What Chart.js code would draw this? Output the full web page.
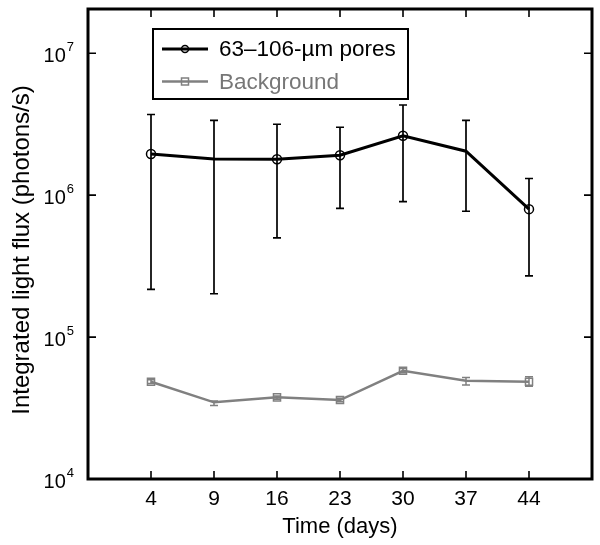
<!DOCTYPE html>
<html>
<head>
<meta charset="utf-8">
<script src="https://cdn.jsdelivr.net/npm/chart.js@4/dist/chart.umd.min.js"></script>
<style>
  html, body { margin: 0; padding: 0; background: #fff; }
  #wrap { width: 600px; height: 545px; }
</style>
</head>
<body>
<div id="wrap"><canvas id="c" width="600" height="545"></canvas></div>
<script>
// ---- data ----
const days = ['4', '9', '16', '23', '30', '37', '44'];
const poresMean = [1.95e6, 1.80e6, 1.79e6, 1.91e6, 2.62e6, 2.04e6, 7.97e5];
const poresLow  = [2.17e5, 2.02e5, 5.0e5, 8.06e5, 9.0e5, 7.7e5, 2.7e5];
const poresHigh = [3.7e6, 3.37e6, 3.16e6, 3.01e6, 4.32e6, 3.37e6, 1.31e6];
const bgMean = [4.84e4, 3.47e4, 3.76e4, 3.60e4, 5.79e4, 4.92e4, 4.84e4];
const bgLow  = [4.70e4, 3.30e4, 3.65e4, 3.50e4, 5.60e4, 4.60e4, 4.50e4];
const bgHigh = [5.00e4, 3.55e4, 3.85e4, 3.70e4, 6.00e4, 5.20e4, 5.25e4];
const markerShown = [true, false, true, true, true, false, true];
const yTickValues = [1e4, 1e5, 1e6, 1e7];
const yMin = 1e4, yMax = 2.05e7;
const yTitle = 'Integrated light flux (photons/s)';
const xTitle = 'Time (days)';

const FONT = 'Liberation Sans, Arial, Helvetica, sans-serif';
const GRAY = '#808080';

const toPts = arr => arr.map((v, i) => ({ x: i, y: v }));

const errorBars = {
  id: 'errorBars',
  beforeDatasetsDraw(chart) {
    const { ctx } = chart;
    const xs = chart.scales.x, ys = chart.scales.y;
    const sets = [
      { low: poresLow, high: poresHigh, color: '#000', w: 1.7 },
      { low: bgLow, high: bgHigh, color: GRAY, w: 1.5 }
    ];
    ctx.save();
    sets.forEach(s => {
      ctx.strokeStyle = s.color;
      ctx.lineWidth = s.w;
      s.low.forEach((lo, i) => {
        const x = xs.getPixelForValue(i);
        const y1 = ys.getPixelForValue(lo);
        const y2 = ys.getPixelForValue(s.high[i]);
        ctx.beginPath();
        ctx.moveTo(x, y1); ctx.lineTo(x, y2);
        ctx.moveTo(x - 4, y1); ctx.lineTo(x + 4, y1);
        ctx.moveTo(x - 4, y2); ctx.lineTo(x + 4, y2);
        ctx.stroke();
      });
    });
    ctx.restore();
  }
};

const frame = {
  id: 'frame',
  afterDraw(chart) {
    const { ctx, chartArea: a } = chart;
    const xs = chart.scales.x, ys = chart.scales.y;
    ctx.save();
    ctx.strokeStyle = '#000';
    ctx.lineWidth = 3;
    ctx.strokeRect(a.left, a.top, a.right - a.left, a.bottom - a.top);
    // inward ticks
    ctx.lineWidth = 1.6;
    ctx.beginPath();
    days.forEach((d, i) => {
      const x = xs.getPixelForValue(i);
      ctx.moveTo(x, a.bottom); ctx.lineTo(x, a.bottom - 8);
      ctx.moveTo(x, a.top); ctx.lineTo(x, a.top + 8);
    });
    yTickValues.forEach(v => {
      const y = ys.getPixelForValue(v);
      ctx.moveTo(a.left, y); ctx.lineTo(a.left + 8, y);
      ctx.moveTo(a.right, y); ctx.lineTo(a.right - 8, y);
    });
    ctx.stroke();
    // y tick labels: 10 with superscript exponent
    ctx.fillStyle = '#000';
    ctx.textBaseline = 'alphabetic';
    yTickValues.forEach(v => {
      const y = ys.getPixelForValue(v);
      const exp = String(Math.round(Math.log10(v)));
      ctx.font = '13px ' + FONT;
      const ew = ctx.measureText(exp).width;
      const right = a.left - 15;
      ctx.textAlign = 'left';
      ctx.fillText(exp, right - ew + 1, y - 2);
      ctx.font = '20px ' + FONT;
      ctx.textAlign = 'right';
      ctx.fillText('10', right - ew, y + 9);
    });
    // y axis title
    ctx.save();
    ctx.translate(22, (a.top + a.bottom) / 2 + 6);
    ctx.rotate(-Math.PI / 2);
    ctx.font = '24px ' + FONT;
    ctx.textAlign = 'center';
    ctx.textBaseline = 'middle';
    ctx.fillText(yTitle, 0, 0);
    ctx.restore();
    // legend box
    const lx = a.left + 65, ly = a.top + 20, lw = 255, lh = 70;
    ctx.lineWidth = 2;
    ctx.strokeStyle = '#000';
    ctx.strokeRect(lx, ly, lw, lh);
    chart.data.datasets.forEach((ds, k) => {
      const cy = ly + 20 + k * 32.5;
      ctx.strokeStyle = ds.borderColor;
      ctx.lineWidth = ds.borderWidth;
      ctx.beginPath();
      ctx.moveTo(lx + 9, cy); ctx.lineTo(lx + 55, cy);
      ctx.stroke();
      ctx.lineWidth = 1.5;
      ctx.beginPath();
      if (ds.pointStyle === 'rect') {
        ctx.strokeRect(lx + 32 - 3.5, cy - 3.5, 7, 7);
      } else {
        ctx.arc(lx + 32, cy, 3.5, 0, Math.PI * 2);
        ctx.stroke();
      }
      ctx.fillStyle = ds.legendText;
      ctx.font = '22.5px ' + FONT;
      ctx.textAlign = 'left';
      ctx.textBaseline = 'middle';
      ctx.fillText(ds.label, lx + 66, cy + 1);
    });
    ctx.restore();
  }
};

new Chart(document.getElementById('c'), {
  type: 'line',
  data: {
    datasets: [
      {
        label: '63\u2013106-\u00b5m pores',
        data: toPts(poresMean),
        borderColor: '#000',
        borderWidth: 3,
        backgroundColor: 'transparent',
        pointStyle: 'circle',
        pointRadius: markerShown.map(s => s ? 4.5 : 0),
        pointBorderWidth: 1.5,
        pointBorderColor: '#000',
        pointBackgroundColor: 'transparent',
        legendText: '#000',
        tension: 0
      },
      {
        label: 'Background',
        data: toPts(bgMean),
        borderColor: GRAY,
        borderWidth: 2.5,
        backgroundColor: 'transparent',
        pointStyle: 'rect',
        pointRadius: markerShown.map(s => s ? 5 : 0),
        pointBorderWidth: 1.5,
        pointBorderColor: GRAY,
        pointBackgroundColor: 'transparent',
        legendText: '#777',
        tension: 0
      }
    ]
  },
  options: {
    responsive: false,
    animation: false,
    devicePixelRatio: 1,
    layout: { padding: { left: 0, right: 8, top: 9, bottom: 0 } },
    plugins: { legend: { display: false }, tooltip: { enabled: false } },
    scales: {
      x: {
        type: 'linear',
        min: -1,
        max: days.length,
        grid: { display: false, drawTicks: false },
        border: { display: false },
        afterBuildTicks: s => { s.ticks = days.map((d, i) => ({ value: i })); },
        afterFit: s => { s.height = 66; },
        ticks: {
          autoSkip: false,
          maxRotation: 0,
          padding: 8,
          color: '#000',
          font: { family: FONT, size: 21 },
          callback: v => days[v] ?? ''
        },
        title: {
          display: true,
          text: xTitle,
          color: '#000',
          font: { family: FONT, size: 22 },
          padding: { top: 0, bottom: 5 }
        }
      },
      y: {
        type: 'logarithmic',
        min: yMin,
        max: yMax,
        grid: { display: false, drawTicks: false },
        border: { display: false },
        afterFit: s => { s.width = 88; },
        ticks: { display: false },
        title: { display: false }
      }
    }
  },
  plugins: [errorBars, frame]
});
</script>
</body>
</html>
